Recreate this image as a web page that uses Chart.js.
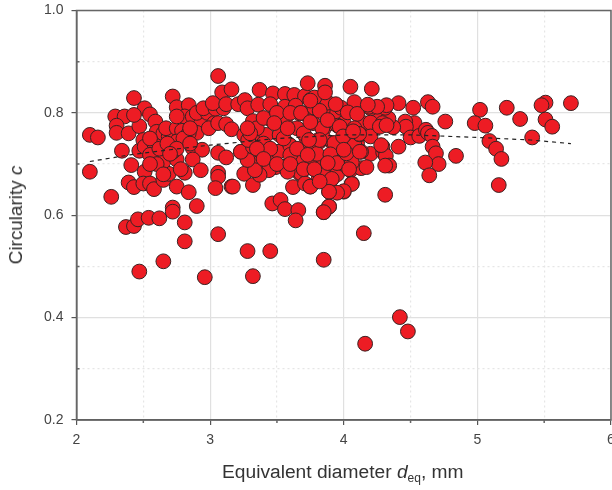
<!DOCTYPE html>
<html>
<head>
<meta charset="utf-8">
<script src="https://cdn.jsdelivr.net/npm/chart.js@4/dist/chart.umd.min.js"></script>
<style>
    body { margin: 0; background: #fff; overflow: hidden; }
    #wrap { position: relative; width: 612px; height: 490px; font-family: "Liberation Sans", Arial, sans-serif; color: #333; }
    #xTitle { position: absolute; left: 222px; top: 461px; font-size: 19.2px; white-space: nowrap; }
    #xTitle sub { font-size: 12px; vertical-align: baseline; position: relative; top: 4px; }
    #yTitle { position: absolute; left: 16px; top: 215px; font-size: 18.9px; white-space: nowrap; transform: translate(-50%, -50%) rotate(-90deg); }
</style>
</head>
<body>
<div id="wrap">
    <canvas id="myChart" width="612" height="490"></canvas>
    <div id="xTitle">Equivalent diameter <i>d</i><sub>eq</sub>, mm</div>
    <div id="yTitle">Circularity <i>c</i></div>
</div>
<script>
const diameters = [
    2.10, 2.16, 2.10, 2.26, 2.29, 2.36, 2.30, 2.30, 2.39, 2.43,
    2.47, 2.51, 2.55, 2.43, 2.59, 2.34, 2.41, 2.47, 2.50, 2.51,
    2.58, 2.55, 2.51, 2.39, 2.43, 2.50, 2.55, 2.58, 2.65, 2.69,
    2.65, 2.75, 2.72, 2.60, 2.65, 2.69, 2.67, 2.75, 2.79, 2.75,
    2.72, 2.75, 2.84, 2.81, 2.75, 2.87, 2.93, 2.90, 2.84, 2.87,
    2.94, 2.87, 2.81, 2.93, 2.75, 2.84, 2.72, 2.72, 2.90, 2.81,
    2.81, 2.37, 2.43, 2.46, 2.54, 2.62, 2.55, 2.62, 2.68, 2.80,
    2.75, 2.85, 2.70, 2.60, 2.55, 2.65, 2.78, 2.90, 2.98, 3.03,
    2.85, 3.28, 3.45, 3.32, 2.96, 2.65, 2.47, 4.42, 4.48, 4.16,
    3.85, 3.06, 3.09, 3.16, 2.95, 3.04, 3.10, 3.02, 3.12, 2.99,
    3.06, 3.12, 3.16, 3.21, 3.26, 3.06, 3.12, 3.06, 3.06, 3.04,
    3.16, 3.06, 3.37, 3.47, 3.56, 3.63, 3.71, 3.75, 3.28, 3.36,
    3.45, 3.56, 3.64, 3.71, 3.81, 3.90, 3.32, 3.45, 3.56, 3.67,
    3.77, 3.85, 3.95, 3.255, 3.36, 3.42, 3.52, 3.60, 3.51, 3.72,
    3.81, 3.23, 3.285, 3.335, 3.43, 3.72, 3.91, 3.78, 3.67, 3.255,
    3.485, 3.56, 3.37, 3.32, 3.17, 3.465, 3.527, 3.56, 3.66, 3.64,
    3.85, 3.89, 3.62, 3.68, 3.71, 3.75, 3.81, 3.89, 3.91, 4.00,
    4.06, 3.78, 3.726, 3.91, 3.96, 3.88, 4.06, 4.05, 3.43, 3.37,
    3.49, 3.56, 3.58, 3.44, 3.37, 3.335, 3.28, 3.23, 3.51, 3.60,
    3.32, 3.285, 3.68, 3.82, 3.92, 4.07, 4.13, 4.01, 3.77, 3.60,
    3.85, 3.35, 3.40, 3.50, 3.60, 3.65, 3.70, 3.40, 3.45, 3.55,
    3.65, 3.75, 3.80, 3.85, 3.90, 3.95, 4.00, 4.10, 4.15, 4.20,
    3.30, 3.35, 3.40, 3.50, 3.60, 3.70, 3.85, 3.95, 4.00, 4.25,
    3.28, 3.48, 3.58, 3.68, 3.78, 3.88, 3.98, 3.78, 5.70, 5.51,
    5.48, 5.51, 5.56, 5.41, 5.32, 5.22, 5.02, 4.98, 5.06, 5.09,
    5.14, 5.18, 5.16, 4.84, 4.76, 4.63, 4.665, 4.52, 4.41, 4.21,
    4.05, 3.86, 3.86, 3.73, 4.53, 4.46, 4.465, 4.50, 4.565, 4.615,
    4.63, 4.66, 4.665, 4.69, 4.71, 4.61, 4.64, 4.37, 4.335, 4.31,
    4.32, 4.20, 4.19, 4.08, 4.03, 4.10, 3.94, 3.82, 3.75, 4.20,
    4.29, 4.41, 4.295, 4.29, 4.315, 4.34, 4.31, 4.31, 4.17, 4.06,
    4.08, 4.12, 4.20, 4.08, 3.955, 3.84, 3.88, 3.75, 3.82, 3.93,
    3.90, 3.95, 4.04, 4.13, 4.02, 3.88, 3.78, 3.73, 3.91, 4.06,
    4.00, 3.95, 3.89, 3.75, 3.82, 3.89, 3.85, 4.15, 3.74, 4.115,
    4.25, 4.27, 4.32, 4.28, 4.12, 3.97, 3.995, 4.07, 4.00, 4.18
];
const circularities = [
    0.757, 0.752, 0.685, 0.636, 0.793, 0.793, 0.775, 0.761, 0.760, 0.829,
    0.774, 0.809, 0.797, 0.796, 0.783, 0.726, 0.698, 0.726, 0.747, 0.734,
    0.741, 0.718, 0.685, 0.664, 0.655, 0.662, 0.662, 0.651, 0.669, 0.681,
    0.705, 0.709, 0.724, 0.763, 0.760, 0.754, 0.770, 0.770, 0.765, 0.744,
    0.832, 0.811, 0.815, 0.793, 0.793, 0.793, 0.778, 0.761, 0.760, 0.731,
    0.728, 0.709, 0.683, 0.688, 0.656, 0.645, 0.615, 0.607, 0.618, 0.586,
    0.549, 0.577, 0.579, 0.592, 0.595, 0.594, 0.750, 0.730, 0.740, 0.750,
    0.730, 0.770, 0.720, 0.700, 0.700, 0.680, 0.690, 0.800, 0.800, 0.780,
    0.740, 0.530, 0.530, 0.481, 0.479, 0.510, 0.490, 0.401, 0.373, 0.349,
    0.513, 0.872, 0.840, 0.846, 0.809, 0.808, 0.809, 0.819, 0.817, 0.770,
    0.780, 0.778, 0.768, 0.817, 0.825, 0.722, 0.713, 0.683, 0.675, 0.653,
    0.656, 0.563, 0.845, 0.838, 0.837, 0.835, 0.833, 0.825, 0.809, 0.816,
    0.817, 0.812, 0.814, 0.799, 0.805, 0.809, 0.784, 0.788, 0.783, 0.799,
    0.780, 0.769, 0.777, 0.757, 0.754, 0.757, 0.757, 0.736, 0.724, 0.751,
    0.747, 0.724, 0.708, 0.722, 0.708, 0.718, 0.718, 0.690, 0.682, 0.681,
    0.695, 0.695, 0.702, 0.659, 0.656, 0.623, 0.630, 0.612, 0.610, 0.590,
    0.606, 0.617, 0.655, 0.682, 0.662, 0.656, 0.669, 0.646, 0.671, 0.646,
    0.662, 0.690, 0.718, 0.718, 0.701, 0.701, 0.703, 0.688, 0.708, 0.703,
    0.694, 0.695, 0.685, 0.688, 0.679, 0.688, 0.708, 0.724, 0.724, 0.736,
    0.734, 0.747, 0.714, 0.744, 0.741, 0.737, 0.692, 0.724, 0.711, 0.718,
    0.708, 0.770, 0.790, 0.800, 0.800, 0.770, 0.760, 0.740, 0.730, 0.750,
    0.730, 0.740, 0.720, 0.750, 0.780, 0.800, 0.780, 0.740, 0.780, 0.720,
    0.760, 0.730, 0.710, 0.700, 0.700, 0.690, 0.680, 0.680, 0.700, 0.790,
    0.770, 0.780, 0.770, 0.800, 0.810, 0.820, 0.810, 0.830, 0.819, 0.820,
    0.815, 0.787, 0.773, 0.752, 0.788, 0.810, 0.806, 0.780, 0.775, 0.745,
    0.730, 0.710, 0.659, 0.716, 0.783, 0.821, 0.812, 0.810, 0.819, 0.847,
    0.851, 0.853, 0.840, 0.858, 0.780, 0.783, 0.773, 0.752, 0.755, 0.767,
    0.761, 0.755, 0.734, 0.721, 0.700, 0.703, 0.678, 0.772, 0.789, 0.810,
    0.815, 0.809, 0.812, 0.821, 0.801, 0.798, 0.817, 0.804, 0.824, 0.781,
    0.780, 0.734, 0.723, 0.734, 0.716, 0.697, 0.697, 0.640, 0.694, 0.703,
    0.737, 0.758, 0.754, 0.770, 0.775, 0.770, 0.786, 0.782, 0.747, 0.741,
    0.719, 0.702, 0.690, 0.724, 0.721, 0.702, 0.690, 0.718, 0.671, 0.661,
    0.647, 0.644, 0.646, 0.656, 0.666, 0.617, 0.606, 0.565, 0.747, 0.759,
    0.812, 0.773, 0.776, 0.737, 0.724, 0.773, 0.754, 0.764, 0.728, 0.816
];
const fitX = [2.1, 2.4, 2.7, 3.0, 3.5, 4.0, 4.5, 5.0, 5.4, 5.7];
const fitY = [0.705, 0.718, 0.728, 0.737, 0.750, 0.757, 0.757, 0.752, 0.747, 0.740];
const xMajorTicks = [2, 3, 4, 5, 6];
const xMinorTicks = [2.5, 3.5, 4.5, 5.5];
const yMajorTicks = [0.2, 0.4, 0.6, 0.8, 1.0];
const yMinorTicks = [0.3, 0.5, 0.7, 0.9];

const ctx = document.getElementById('myChart');

const isMajor = (value, majors) => majors.some(m => Math.abs(m - value) < 1e-6);

// frame round the plot and the short minor ticks, the library has one border and one tick length per scale
const frame = {
    id: 'frame',
    afterDatasetsDraw(chart) {
        const a = chart.chartArea;
        const c = chart.ctx;
        c.save();
        c.strokeStyle = '#666';
        c.lineWidth = 1.5;
        c.strokeRect(a.left, a.top, a.right - a.left, a.bottom - a.top);
        c.beginPath();
        xMinorTicks.forEach(v => {
            const px = chart.scales.x.getPixelForValue(v);
            c.moveTo(px, a.bottom);
            c.lineTo(px, a.bottom + 3);
        });
        yMinorTicks.forEach(v => {
            const py = chart.scales.y.getPixelForValue(v);
            c.moveTo(a.left, py);
            c.lineTo(a.left + 3, py);
        });
        c.stroke();
        c.restore();
    }
};

const chart = new Chart(ctx, {
    type: 'scatter',
    data: {
        datasets: [{
            type: 'line',
            data: fitX.map((x, i) => ({ x: x, y: fitY[i] })),
            borderColor: '#222',
            borderWidth: 1.2,
            borderDash: [4, 4],
            pointRadius: 0,
            fill: false
        }, {
            data: diameters.map((x, i) => ({ x: x, y: circularities[i] })),
            backgroundColor: '#ed1c24',
            borderColor: '#3a2222',
            borderWidth: 1,
            pointRadius: 7.4
        }]
    },
    options: {
        responsive: false,
        animation: false,
        layout: { autoPadding: false, padding: { left: 0, right: 1, top: 10.5, bottom: 0 } },
        plugins: { legend: { display: false }, tooltip: { enabled: false } },
        scales: {
            x: {
                min: 2,
                max: 6,
                afterFit: s => { s.height = 70; s.paddingRight = 0; s.paddingLeft = 0; },
                ticks: {
                    stepSize: 0.5,
                    autoSkip: false,
                    maxRotation: 0,
                    padding: 7,
                    color: '#444',
                    font: { family: '"Liberation Sans"', size: 14 },
                    callback: v => (isMajor(v, xMajorTicks) ? String(v) : '')
                },
                border: {
                    color: '#555',
                    width: 1.5,
                    dash: c => (isMajor(c.tick.value, xMajorTicks) ? [] : [2, 3])
                },
                grid: {
                    color: c => (isMajor(c.tick.value, xMajorTicks) ? '#e0e0e0' : '#e6e6e6'),
                    tickColor: c => (isMajor(c.tick.value, xMajorTicks) ? '#555' : 'rgba(0,0,0,0)'),
                    tickLength: 5,
                    lineWidth: 1.2
                }
            },
            y: {
                min: 0.2,
                max: 1,
                afterFit: s => { s.width = 76.5; s.paddingTop = 0; s.paddingBottom = 0; },
                ticks: {
                    stepSize: 0.1,
                    autoSkip: false,
                    padding: 8,
                    color: '#444',
                    font: { family: '"Liberation Sans"', size: 14 },
                    callback: v => (isMajor(v, yMajorTicks) ? v.toFixed(1) : '')
                },
                border: {
                    color: '#555',
                    width: 1.5,
                    dash: c => (isMajor(c.tick.value, yMajorTicks) ? [] : [2, 3])
                },
                grid: {
                    color: c => (isMajor(c.tick.value, yMajorTicks) ? '#e0e0e0' : '#e6e6e6'),
                    tickColor: c => (isMajor(c.tick.value, yMajorTicks) ? '#555' : 'rgba(0,0,0,0)'),
                    tickLength: 5,
                    lineWidth: 1.2
                }
            }
        }
    },
    plugins: [frame]
});
</script>
</body>
</html>
